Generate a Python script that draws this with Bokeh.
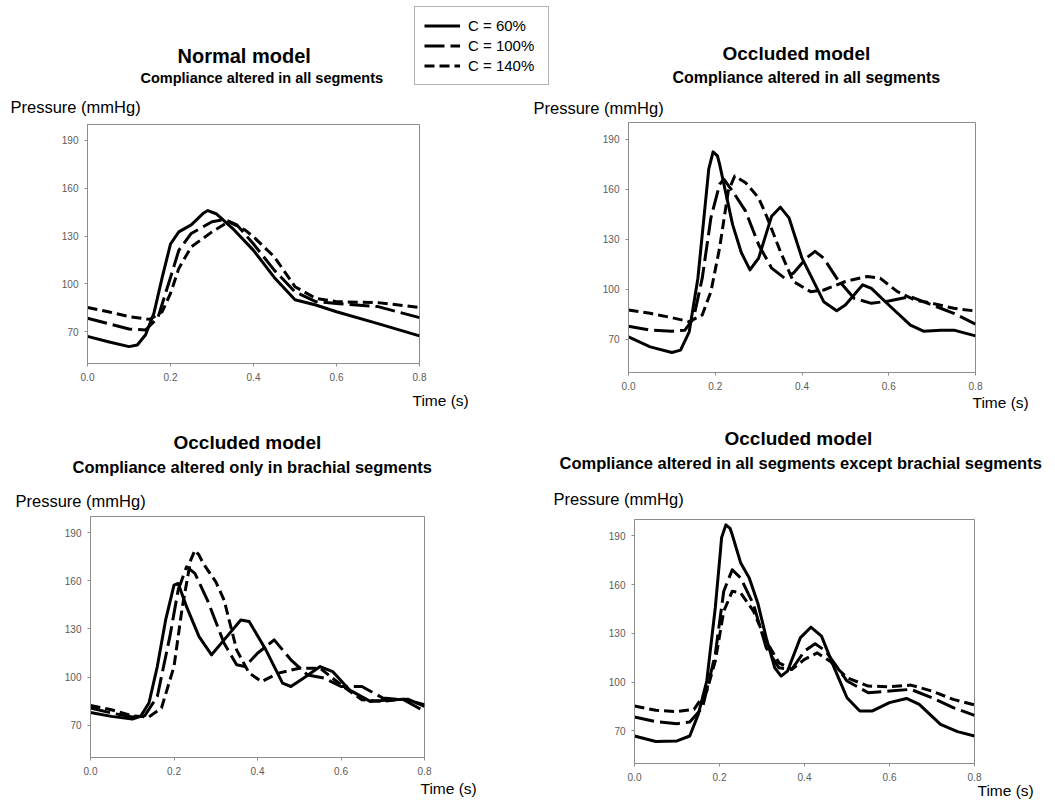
from bokeh.plotting import figure
from bokeh.models import (Legend, LegendItem, Range1d, FixedTicker, NumeralTickFormatter,
                          Title, GridBox, Column)
from bokeh.embed import file_html
from bokeh.resources import INLINE

FONT = "Liberation Sans"

# ---------------- data (time in s, pressure in mmHg) ----------------
series_labels = ["C = 60%", "C = 100%", "C = 140%"]
x_ticks = [0.0, 0.2, 0.4, 0.6, 0.8]
y_ticks = [70, 100, 130, 160, 190]

# Panel 1: Normal model, compliance altered in all segments
n_all_t60 = [0, 0.05, 0.10, 0.12, 0.14, 0.16, 0.18, 0.20, 0.22, 0.25, 0.28, 0.29, 0.31, 0.35, 0.40, 0.45, 0.50, 0.55, 0.60, 0.70, 0.80]
n_all_p60 = [67, 63.7, 60.6, 61.6, 68, 81.5, 104, 125, 132.6, 137, 144.5, 146, 144, 134.7, 121, 104, 90, 86.7, 82.5, 75, 67.3]
n_all_t100 = [0, 0.05, 0.10, 0.14, 0.17, 0.20, 0.22, 0.25, 0.30, 0.33, 0.36, 0.40, 0.45, 0.50, 0.55, 0.60, 0.70, 0.80]
n_all_p100 = [78.4, 75, 71.7, 71, 79, 104, 121, 131.6, 139, 140.4, 137, 125, 108.6, 95, 88.8, 87.7, 85.7, 78.8]
n_all_t140 = [0, 0.05, 0.10, 0.15, 0.18, 0.20, 0.22, 0.25, 0.30, 0.34, 0.38, 0.40, 0.45, 0.50, 0.55, 0.60, 0.70, 0.80]
n_all_p140 = [85.2, 82.5, 79.4, 77.7, 82.5, 94, 109.7, 123.2, 132.6, 139, 133.7, 129.5, 117, 98.2, 90.9, 88.8, 88.2, 85.2]

# Panel 2: Occluded model, compliance altered in all segments
o_all_t60 = [0, 0.05, 0.10, 0.12, 0.14, 0.16, 0.18, 0.185, 0.195, 0.205, 0.21, 0.24, 0.26, 0.28, 0.30, 0.33, 0.35, 0.37, 0.40, 0.45, 0.48, 0.50, 0.54, 0.56, 0.60, 0.65, 0.68, 0.72, 0.75, 0.80]
o_all_p60 = [71.4, 65.4, 62, 63.4, 74.4, 106.6, 158.8, 172, 182.4, 180, 175, 138.7, 122, 111.6, 118.6, 143.8, 149.2, 142.8, 118.6, 92.5, 87, 90.5, 102.6, 100.5, 90.5, 78.4, 74.8, 75.4, 75.4, 72]
o_all_t100 = [0, 0.05, 0.10, 0.13, 0.15, 0.17, 0.19, 0.21, 0.22, 0.24, 0.27, 0.30, 0.33, 0.36, 0.38, 0.41, 0.43, 0.45, 0.48, 0.52, 0.56, 0.60, 0.65, 0.70, 0.75, 0.80]
o_all_p100 = [77.8, 75.4, 74.8, 75.4, 82.5, 106.6, 142.8, 162.9, 165.9, 158.8, 146.8, 126.7, 112.6, 106.6, 109.6, 118.6, 122.7, 118.6, 106.6, 94.5, 91.5, 92.9, 95.5, 90.5, 85.5, 79]
o_all_t140 = [0, 0.05, 0.10, 0.14, 0.17, 0.19, 0.21, 0.23, 0.245, 0.27, 0.30, 0.32, 0.35, 0.38, 0.42, 0.45, 0.50, 0.55, 0.58, 0.62, 0.66, 0.70, 0.75, 0.80]
o_all_p140 = [87.5, 85.5, 82.9, 80.5, 84.5, 98.5, 124.7, 158.8, 167.9, 163.9, 154.8, 142.8, 122.7, 104.6, 98.5, 99.5, 104.6, 107.6, 106.6, 98.5, 93.5, 91.5, 88.5, 86.9]

# Panel 3: Occluded model, compliance altered only in brachial segments
o_br_t60 = [0, 0.05, 0.10, 0.12, 0.14, 0.16, 0.18, 0.20, 0.21, 0.23, 0.26, 0.29, 0.32, 0.36, 0.38, 0.42, 0.46, 0.48, 0.51, 0.55, 0.58, 0.62, 0.67, 0.72, 0.76, 0.80]
o_br_p60 = [78, 75.6, 73.9, 75.6, 83.9, 106.6, 135.6, 157.3, 158.3, 143.9, 125.2, 113.9, 123.2, 135.6, 134.6, 117, 96.3, 94.2, 99.4, 106.6, 103.5, 92.1, 84.9, 86, 86.3, 81.8]
o_br_t100 = [0, 0.05, 0.10, 0.13, 0.16, 0.19, 0.21, 0.23, 0.25, 0.28, 0.32, 0.35, 0.37, 0.40, 0.44, 0.48, 0.52, 0.56, 0.60, 0.65, 0.70, 0.75, 0.80]
o_br_p100 = [80.8, 77.7, 75.2, 76, 88, 125.2, 154.2, 168.7, 164.6, 148, 121.1, 107.7, 106.6, 114.9, 123.2, 110.8, 101.4, 99.4, 94.2, 94.2, 87, 86, 78.7]
o_br_t140 = [0, 0.05, 0.10, 0.14, 0.17, 0.20, 0.22, 0.24, 0.25, 0.26, 0.27, 0.30, 0.32, 0.35, 0.38, 0.41, 0.45, 0.50, 0.55, 0.60, 0.65, 0.70, 0.75, 0.80]
o_br_p140 = [82.4, 79.7, 76, 75.2, 80.8, 106.6, 143.9, 172.8, 179, 176, 170.8, 159.4, 148, 117, 102.5, 97.3, 102.5, 105.6, 105.6, 95.2, 85.9, 84.9, 86.3, 82.8]

# Panel 4: Occluded model, compliance altered in all segments except brachial
o_ex_t60 = [0, 0.05, 0.10, 0.13, 0.15, 0.17, 0.19, 0.20, 0.205, 0.215, 0.225, 0.23, 0.25, 0.27, 0.29, 0.31, 0.33, 0.345, 0.36, 0.39, 0.415, 0.44, 0.47, 0.50, 0.53, 0.56, 0.60, 0.64, 0.67, 0.72, 0.76, 0.80]
o_ex_p60 = [66.9, 63.5, 63.9, 66.9, 80.2, 100.7, 145.6, 174.3, 189, 196.7, 194.5, 190.6, 173.2, 164, 148.7, 127.2, 108.8, 103.7, 106.8, 127.2, 133.8, 128.3, 108.8, 90.4, 82.3, 82.3, 87.4, 90, 86.4, 74.1, 69.6, 66.9]
o_ex_t100 = [0, 0.05, 0.10, 0.13, 0.16, 0.19, 0.21, 0.23, 0.25, 0.28, 0.31, 0.34, 0.37, 0.40, 0.425, 0.45, 0.50, 0.55, 0.60, 0.65, 0.70, 0.75, 0.80]
o_ex_p100 = [78.6, 75.7, 74.5, 75.5, 84.3, 117, 155.9, 169.1, 164, 147.7, 121.1, 108.8, 107.8, 119.1, 123.6, 119.1, 100.7, 93.5, 94.5, 95.6, 90.4, 84.3, 79.6]
o_ex_t140 = [0, 0.05, 0.10, 0.14, 0.17, 0.19, 0.21, 0.23, 0.25, 0.28, 0.31, 0.34, 0.37, 0.40, 0.43, 0.46, 0.50, 0.55, 0.60, 0.65, 0.70, 0.75, 0.80]
o_ex_p140 = [85.3, 82.7, 81.9, 83.3, 94.5, 112.9, 143.6, 155.9, 154.8, 143.6, 125.2, 111.9, 107.8, 114, 118, 112.9, 102.7, 97.6, 97.2, 98.2, 94.5, 89.4, 86]

DASHES = ["solid", "20 6", "10 5"]
AXIS_GREY = "#8c8c8c"
AXIS_SIZE = 26  # measured height of the x axis (ticks + labels)


def stacked_titles(p, side, items, start_gap):
    """items: (text, font_px, bold, distance of text centre from frame edge, left offset)"""
    edge = start_gap
    for text, size, bold, dist, offset in items:
        h = 1.15 * size
        H = 2 * (dist - edge + 1)
        s = H - 2 - h
        edge += H
        p.add_layout(Title(text=text, text_font=FONT, text_font_size=f"{size}px",
                           text_font_style="bold" if bold else "normal", text_color="black",
                           align="left", offset=offset, standoff=s), side)


def make_panel(width, height, borders, series, above_items, time_item):
    bl, br, bt, bb = borders
    p = figure(width=width, height=height, output_backend="svg", toolbar_location=None,
               x_range=Range1d(0, 0.8), y_range=Range1d(50, 200),
               min_border_left=bl, min_border_right=br, min_border_top=bt, min_border_bottom=bb)
    p.title.visible = False
    p.xgrid.visible = False
    p.ygrid.visible = False
    p.outline_line_color = AXIS_GREY
    p.outline_line_width = 1
    p.background_fill_color = "white"
    p.border_fill_color = "white"
    for ax in (p.xaxis[0], p.yaxis[0]):
        ax.axis_line_color = AXIS_GREY
        ax.major_tick_line_color = AXIS_GREY
        ax.minor_tick_line_color = None
        ax.major_tick_in = 0
        ax.major_tick_out = 3
        ax.minor_tick_out = 0
        ax.minor_tick_in = 0
        ax.major_label_text_font = FONT
        ax.major_label_text_font_size = "10px"
        ax.major_label_text_color = "#5a5a5a"
    p.xaxis[0].ticker = FixedTicker(ticks=x_ticks)
    p.xaxis[0].formatter = NumeralTickFormatter(format="0.0")
    p.xaxis[0].major_label_standoff = 6
    p.yaxis[0].ticker = FixedTicker(ticks=y_ticks)
    p.yaxis[0].major_label_standoff = 6

    for (t, v), dash in zip(series, DASHES):
        p.line(t, v, line_color="black", line_width=3, line_dash=dash,
               line_join="round", line_cap="butt")

    stacked_titles(p, "above", above_items, 0)
    stacked_titles(p, "below", [time_item], AXIS_SIZE)
    return p


panel1_series = [(n_all_t60, n_all_p60), (n_all_t100, n_all_p100), (n_all_t140, n_all_p140)]

# left column canvases: x 0-525, right column: x 525-1053; rows: y 0-422, 422-805
# TL: frame x 87-419, y 124-363 (page)
p1 = make_panel(525, 422, (87, 106, 124, 59), panel1_series,
                [("Pressure (mmHg)", 16.5, False, 18, -77),
                 ("Compliance altered in all segments", 14.5, True, 48, 53),
                 ("Normal model", 20, True, 71, 90)],
                ("Time (s)", 15.5, False, 41.5, 325))
# TR: frame x 628-975, y 122-372
p2 = make_panel(528, 422, (103, 78, 122, 50),
                [(o_all_t60, o_all_p60), (o_all_t100, o_all_p100), (o_all_t140, o_all_p140)],
                [("Pressure (mmHg)", 16.5, False, 15, -95),
                 ("Compliance altered in all segments", 16, True, 47, 44),
                 ("Occluded model", 19, True, 71, 94)],
                ("Time (s)", 15.5, False, 34.5, 344))
# BL: frame x 90-424, y 516-757
p3 = make_panel(525, 383, (90, 101, 94, 48),
                [(o_br_t60, o_br_p60), (o_br_t100, o_br_p100), (o_br_t140, o_br_p140)],
                [("Pressure (mmHg)", 16.5, False, 16, -75),
                 ("Compliance altered only in brachial segments", 16.5, True, 51, -18),
                 ("Occluded model", 19, True, 76, 83)],
                ("Time (s)", 15.5, False, 36, 330))
# BR: frame x 634-974, y 519-763
p4 = make_panel(528, 383, (109, 79, 97, 42),
                [(o_ex_t60, o_ex_p60), (o_ex_t100, o_ex_p100), (o_ex_t140, o_ex_p140)],
                [("Pressure (mmHg)", 16.5, False, 21, -81),
                 ("Compliance altered in all segments except brachial segments", 16.5, True, 58, -75),
                 ("Occluded model", 19, True, 83, 90)],
                ("Time (s)", 15.5, False, 31.5, 343))

# Shared legend: a transparent overlay figure spanning the top of both columns,
# whose frame holds the legend box (x 414-547, y 6-83).
pl = figure(width=560, height=90, output_backend="svg", toolbar_location=None,
            x_axis_type=None, y_axis_type=None,
            min_border_left=414, min_border_right=0, min_border_top=6, min_border_bottom=0)
pl.title.visible = False
pl.outline_line_color = None
pl.background_fill_alpha = 0
pl.border_fill_alpha = 0
leg_renderers = []
for (t, v), dash in zip(panel1_series, DASHES):
    r = pl.line(t, v, line_color="black", line_width=3, line_dash=dash, line_cap="butt")
    r.visible = False
    leg_renderers.append(r)

legend = Legend(items=[LegendItem(label=lab, renderers=[r]) for lab, r in zip(series_labels, leg_renderers)],
                location="top_left", orientation="vertical",
                label_text_font=FONT, label_text_font_size="15px", label_text_color="black",
                glyph_width=36, glyph_height=19, label_height=19, label_width=71, label_standoff=8,
                padding=9, spacing=1, margin=0,
                border_line_color="#666666", border_line_width=1,
                background_fill_color="white", background_fill_alpha=1.0)
pl.add_layout(legend, "center")

# each figure in its own Column so that the grid does not align their frames
layout = GridBox(children=[(Column(children=[p1]), 0, 0), (Column(children=[p2]), 0, 1),
                           (Column(children=[p3]), 1, 0), (Column(children=[p4]), 1, 1),
                           (Column(children=[pl]), 0, 0, 1, 2)])
open("out.html", "w").write(file_html(layout, INLINE))
